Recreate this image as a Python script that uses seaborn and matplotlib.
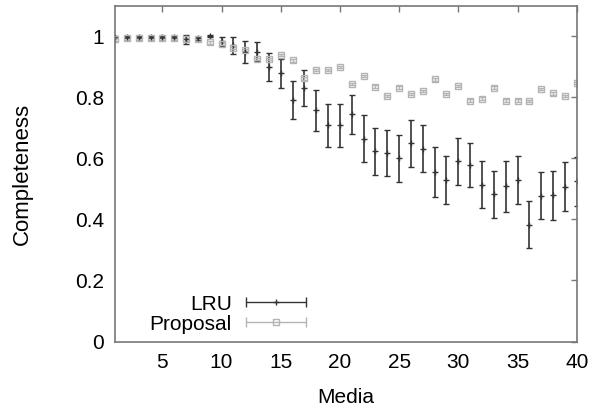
import matplotlib
matplotlib.use("Agg")
import matplotlib.pyplot as plt
import seaborn as sns
from matplotlib.lines import Line2D
from matplotlib.legend_handler import HandlerLine2D, HandlerTuple

media = list(range(1, 41))

lru_mean = [0.997, 0.997, 0.997, 0.997, 0.997, 0.997, 0.99, 0.993, 1.0, 0.983,
            0.97, 0.95, 0.95, 0.898, 0.879, 0.791, 0.829, 0.757, 0.708, 0.708,
            0.744, 0.665, 0.623, 0.617, 0.601, 0.65, 0.632, 0.555, 0.53, 0.59,
            0.579, 0.513, 0.483, 0.508, 0.529, 0.382, 0.477, 0.479, 0.507, 0.525]
lru_err = [0.003, 0.003, 0.003, 0.003, 0.003, 0.003, 0.015, 0.006, 0.003, 0.016,
           0.029, 0.036, 0.03, 0.046, 0.048, 0.063, 0.059, 0.067, 0.071, 0.071,
           0.065, 0.076, 0.076, 0.075, 0.077, 0.077, 0.078, 0.082, 0.078, 0.077,
           0.072, 0.077, 0.077, 0.084, 0.079, 0.077, 0.077, 0.08, 0.08, 0.08]

proposal_mean = [0.99, 0.993, 0.993, 0.993, 0.993, 0.993, 0.99, 0.99, 0.98, 0.975,
                 0.961, 0.955, 0.925, 0.925, 0.939, 0.921, 0.862, 0.89, 0.89, 0.899,
                 0.843, 0.87, 0.835, 0.805, 0.832, 0.81, 0.82, 0.859, 0.81, 0.837,
                 0.789, 0.796, 0.832, 0.789, 0.789, 0.788, 0.827, 0.813, 0.805, 0.846]
proposal_err = [0.004] * 40

sns.set_theme(style="white")
plt.rcParams['font.family'] = ['Liberation Sans', 'DejaVu Sans']
plt.rcParams['text.color'] = 'black'
plt.rcParams['axes.labelcolor'] = 'black'

lru_color = "#333333"
prop_color = "#b4b4b4"

fig = plt.figure(figsize=(6.02, 4.09), dpi=100)
ax = fig.add_axes([0.191, 0.165, 0.767, 0.821])

ax.errorbar(media, lru_mean, yerr=lru_err, fmt='+', color=lru_color,
            ecolor=lru_color, elinewidth=1.2, capsize=2.5, capthick=1.2,
            markersize=5, markeredgewidth=1.0)
ax.errorbar(media, proposal_mean, yerr=proposal_err, fmt='s', color=prop_color,
            ecolor=prop_color, elinewidth=1.0, capsize=2.5, capthick=1.0,
            markersize=5, markerfacecolor='none', markeredgewidth=1.0)

ax.set_xlim(1, 40)
ax.set_ylim(0, 1.1)
ax.set_xticks([5, 10, 15, 20, 25, 30, 35, 40])
ax.set_yticks([0, 0.2, 0.4, 0.6, 0.8, 1])
ax.set_yticklabels(["0", "0.2", "0.4", "0.6", "0.8", "1"])
ax.tick_params(direction='in', length=4, width=1, color="#777777",
               top=True, right=True, labelsize=15, labelcolor="black", pad=8)
for s in ax.spines.values():
    s.set_color("#777777")
    s.set_linewidth(1.2)

ax.set_xlabel("Media", fontsize=15, labelpad=12)
ax.set_ylabel("Completeness", fontsize=16, labelpad=30)

# gnuplot style legend: label then horizontal errorbar sample
def sample(color, marker, mfc):
    bar = Line2D([], [], color=color, lw=1.0, marker='|', markersize=7,
                 markeredgewidth=1.0)
    mid = Line2D([], [], color=color, lw=0, marker=marker, markersize=4,
                 markerfacecolor=mfc, markeredgewidth=1.0)
    return bar, mid

lru_bar, lru_mid = sample(lru_color, '+', lru_color)
prop_bar, prop_mid = sample(prop_color, 's', 'none')
hmap = {lru_bar: HandlerLine2D(numpoints=2, marker_pad=0),
        prop_bar: HandlerLine2D(numpoints=2, marker_pad=0),
        lru_mid: HandlerLine2D(numpoints=1),
        prop_mid: HandlerLine2D(numpoints=1),
        tuple: HandlerTuple(ndivide=1)}
ax.legend([(lru_bar, lru_mid), (prop_bar, prop_mid)], ["LRU", "Proposal"],
          handler_map=hmap, loc='lower right', bbox_to_anchor=(0.445, -0.02),
          frameon=False, markerfirst=False, fontsize=15, handlelength=2.85,
          handletextpad=0.7, labelspacing=0.05, borderpad=0.2)

fig.savefig("out.png", dpi=100)
